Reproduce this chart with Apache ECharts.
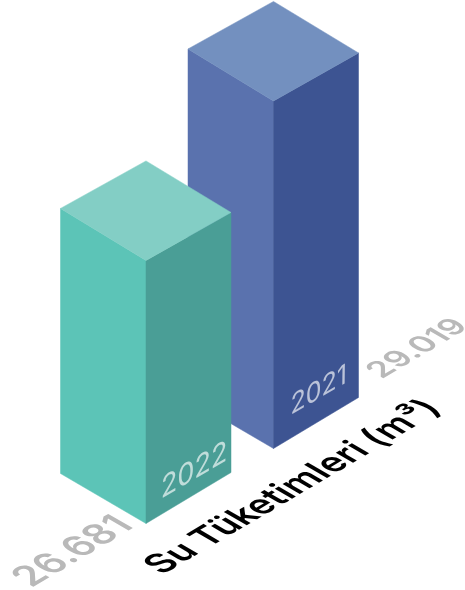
<!DOCTYPE html>
<html><head><meta charset="utf-8">
<style>html,body{margin:0;padding:0;background:#fff}#c{width:465px;height:590px}</style>
<script src="https://cdn.jsdelivr.net/npm/echarts@6/dist/echarts.min.js"></script></head>
<body><div id="c"></div>
<script>
const years = ['2021', '2022'];
const values = [29019, 26681];
const titleText = 'Su Tüketimleri (m³)';

const FONT = 'Inter, "Open Sans", sans-serif';
const looks = {
  '2021': {left:'#5A72AE', right:'#3D5492', top:'#7390BF', lift:75, yearDx:45, yearDy:-58, yearSize:25, valDx:144, valDy:-100, valSize:28, valSx:.97},
  '2022': {left:'#5CC4B7', right:'#4A9E96', top:'#83CEC5', lift:0, yearDx:48, yearDy:-53, yearSize:27, valDx:-73, valDy:28, valSize:35, valSx:.92}
};
const T = Math.atan(50/85);
const fmt = v => String(v).replace(/\B(?=(\d{3})+$)/g, '.');
function poly(points, fill){
  return {type:'polygon', shape:{points}, style:{fill, stroke:fill, lineWidth:0.5}};
}
function groundText(text,x,y,size,sx,sy,fill,weight){
  return {type:'text', x, y, scaleX:sx, scaleY:sy, skewX:Math.atan(1.72), skewY:T,
    style:{text, font:weight+' '+size+'px '+FONT, fill, align:'center', verticalAlign:'middle'}};
}
const chart = echarts.init(document.getElementById('c'), null, {renderer:'canvas'});
chart.setOption({
  animation:false,
  grid:{left:82.25, width:255, top:140.5, height:383},
  xAxis:{type:'category', data:years, inverse:true, show:false},
  yAxis:{type:'value', min:19400, max:30000, show:false},
  series:[{
    type:'custom', silent:true, clip:false,
    data: years.map((y,i)=>[i, values[i]]),
    renderItem(params, api){
      const i = api.value(0), v = api.value(1), L = looks[years[i]];
      const base = api.coord([i, 19400]), tp = api.coord([i, v]);
      const x = base[0], yb = base[1]-L.lift, yt = tp[1]-L.lift;
      const lx = x-85.5, rx = x+85;
      return {type:'group', children:[
        poly([[lx,yt-52],[x,yt],[x,yb],[lx,yb-50]], L.left),
        poly([[x,yt],[rx,yt-48],[rx,yb-51],[x,yb]], L.right),
        poly([[lx,yt-52],[x,yt-99.5],[rx,yt-48],[x,yt]], L.top),
        {type:'text', x:x+L.yearDx, y:yb+L.yearDy, scaleX:1, scaleY:1, skewY:T, skewX:0.15,
          style:{text:years[i], font:'italic 400 '+L.yearSize+'px '+FONT, fill:'rgba(255,255,255,0.65)', align:'center', verticalAlign:'middle'}},
        groundText(fmt(v), x+L.valDx, yb+L.valDy, L.valSize, L.valSx, .56, '#B9B9B9', 600)
      ]};
    }
  },{
    type:'custom', silent:true, clip:false, data:[[0,19400]],
    renderItem(params, api){
      return groundText(titleText, 293, 487, 34, .89, .54, '#000', 600);
    }
  }]
});
</script></body></html>
